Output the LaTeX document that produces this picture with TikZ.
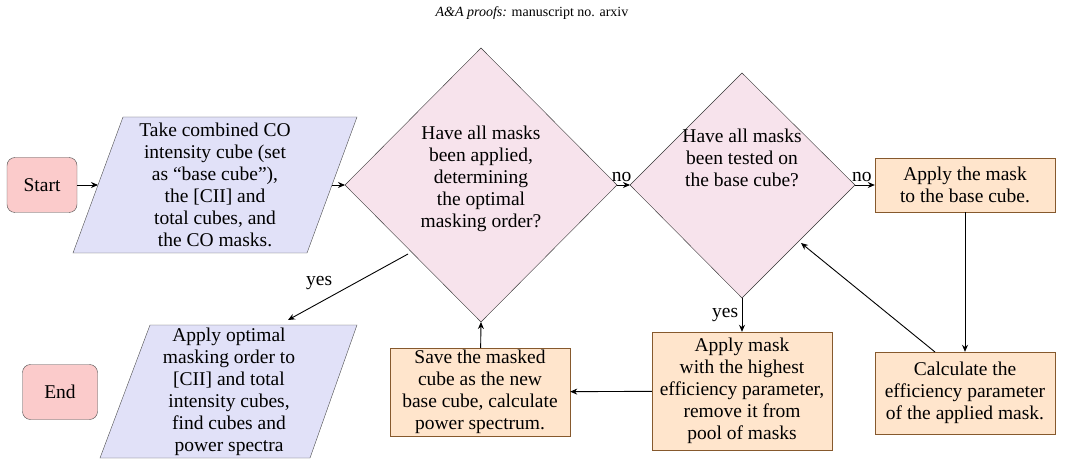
\documentclass[tikz,border=0pt]{standalone}
\usepackage{fontspec}
\setmainfont{Liberation Serif}
\usetikzlibrary{shapes.geometric,arrows.meta}
\definecolor{decfill}{HTML}{F7E3EC}
\definecolor{iofill}{HTML}{E1E1F8}
\definecolor{procfill}{HTML}{FFE5CC}
\definecolor{termfill}{HTML}{FBCBCB}
\begin{document}
\begin{tikzpicture}[x=1pt,y=-1pt,
  every node/.style={font=\fontsize{19.5}{22}\selectfont},
  term/.style={draw=black!70,fill=termfill,rounded corners=8pt,minimum width=70,minimum height=55,inner sep=0},
  io/.style={draw=black!70,fill=iofill},
  proc/.style={draw=brown!70!black,fill=procfill,align=center,inner sep=2},
  arr/.style={-{Stealth[length=7,width=6]},line width=0.9},
  lab/.style={font=\fontsize{19.5}{22}\selectfont}]
\useasboundingbox (0,0) rectangle (1065,470);
\node[font=\fontsize{14}{16}\selectfont] (hdr) at (532,13) {\textit{A\&A proofs:} manuscript no. arxiv};
\node[term] (start) at (42,185) {Start};
\node[term,minimum width=75] (end) at (60,392) {End};
% parallelogram 1
\draw[io] (123,117) -- (357,117) -- (307,253) -- (73,253) -- cycle;
\coordinate (p1w) at (98,185); \coordinate (p1e) at (332,185);
\node[align=center] (p1) at (215,185) {Take combined CO\\intensity cube (set\\as ``base cube''),\\the [CII] and\\total cubes, and\\the CO masks.};
% parallelogram 2
\draw[io] (150,325) -- (357,325) -- (310,458) -- (100,458) -- cycle;
\coordinate (p2ne) at (288,320);
\node[align=center] (p2) at (229,392) {Apply optimal\\masking order to\\{}[CII] and total\\intensity cubes,\\find cubes and\\power spectra};
% diamonds
\draw[fill=decfill,draw=black!80] (345,185) -- (481,48) -- (617,185) -- (481,322) -- cycle;
\coordinate (d1w) at (345,185); \coordinate (d1e) at (617,185); \coordinate (d1s) at (481,322);
\coordinate (d1sw) at (408,254);
\node[align=center] (d1) at (481,179) {Have all masks\\been applied,\\determining\\the optimal\\masking order?};
\draw[fill=decfill,draw=black!80] (630,185) -- (742,73) -- (855,185) -- (742,298) -- cycle;
\coordinate (d2w) at (630,185); \coordinate (d2e) at (855,185); \coordinate (d2s) at (742,298);
\coordinate (d2se) at (801,243);
\node[align=center] (d2) at (742,158) {Have all masks\\been tested on\\the base cube?};
% processes
\node[proc,minimum height=54,minimum width=180] (apply) at (965,185) {Apply the mask\\to the base cube.};
\node[proc,minimum height=82,minimum width=180] (calc) at (965,393) {Calculate the\\efficiency parameter\\of the applied mask.};
\node[proc,minimum height=118,minimum width=180] (high) at (742,391) {Apply mask\\with the highest\\efficiency parameter,\\remove it from\\pool of masks};
\node[proc,minimum height=88,minimum width=180] (save) at (480,392) {Save the masked\\cube as the new\\base cube, calculate\\power spectrum.};
% arrows
\draw[arr] (start) -- (p1w);
\draw[arr] (p1e) -- (d1w);
\draw[arr] (d1e) -- node[lab,above,pos=0.35]{no} (d2w);
\draw[arr] (d2e) -- node[lab,above,pos=0.35]{no} (apply.west);
\draw[arr] (apply) -- (calc);
\coordinate (cs) at (935,352);
\draw[arr] (cs) -- (d2se);
\draw[arr] (d2s) -- node[lab,left,pos=0.5]{yes} (high);
\draw[arr] (high) -- (save);
\draw[arr] (save) -- (d1s);
\draw[arr] (d1sw) -- node[lab,above left,pos=0.6]{yes} (p2ne);
\end{tikzpicture}
\end{document}
